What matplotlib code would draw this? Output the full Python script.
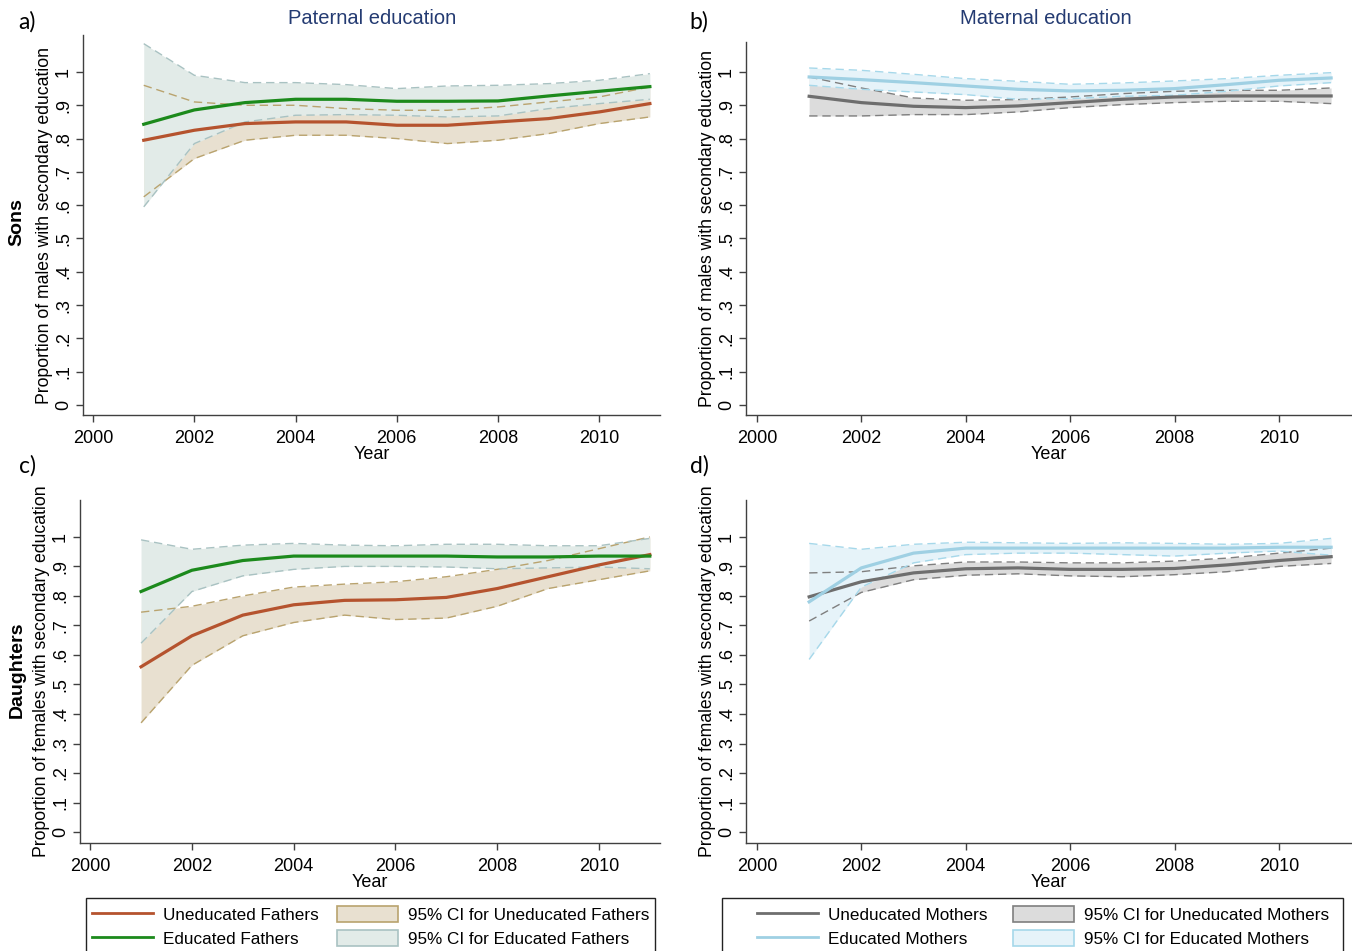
import matplotlib
matplotlib.use("Agg")
import matplotlib.pyplot as plt
import numpy as np
from matplotlib.patches import Patch, Rectangle
from matplotlib.lines import Line2D

plt.rcParams['font.family'] = ['Liberation Sans', 'DejaVu Sans']

years = [2001, 2002, 2003, 2004, 2005, 2006, 2007, 2008, 2009, 2010, 2011]

# Panel a: Sons, paternal education
a_unedu = [0.795, 0.825, 0.845, 0.850, 0.850, 0.840, 0.840, 0.850, 0.860, 0.880, 0.905]
a_unedu_lo = [0.625, 0.740, 0.795, 0.810, 0.810, 0.800, 0.785, 0.795, 0.815, 0.845, 0.865]
a_unedu_hi = [0.960, 0.910, 0.900, 0.900, 0.890, 0.885, 0.885, 0.895, 0.910, 0.925, 0.955]
a_edu = [0.843, 0.886, 0.908, 0.918, 0.918, 0.912, 0.912, 0.913, 0.928, 0.942, 0.956]
a_edu_lo = [0.595, 0.785, 0.850, 0.870, 0.872, 0.870, 0.865, 0.868, 0.890, 0.905, 0.918]
a_edu_hi = [1.085, 0.990, 0.968, 0.968, 0.962, 0.950, 0.958, 0.960, 0.965, 0.975, 0.995]

# Panel b: Sons, maternal education
b_unedu = [0.927, 0.908, 0.897, 0.893, 0.898, 0.908, 0.918, 0.925, 0.928, 0.928, 0.928]
b_unedu_lo = [0.868, 0.868, 0.872, 0.872, 0.880, 0.893, 0.902, 0.908, 0.912, 0.912, 0.905]
b_unedu_hi = [0.985, 0.952, 0.922, 0.915, 0.917, 0.925, 0.935, 0.942, 0.945, 0.945, 0.952]
b_edu = [0.985, 0.977, 0.968, 0.958, 0.948, 0.943, 0.945, 0.950, 0.962, 0.975, 0.982]
b_edu_lo = [0.960, 0.948, 0.940, 0.932, 0.918, 0.920, 0.927, 0.930, 0.942, 0.958, 0.968]
b_edu_hi = [1.012, 1.005, 0.993, 0.980, 0.972, 0.963, 0.967, 0.973, 0.980, 0.990, 0.998]

# Panel c: Daughters, paternal education
c_unedu = [0.560, 0.665, 0.735, 0.770, 0.785, 0.787, 0.795, 0.825, 0.865, 0.905, 0.940]
c_unedu_lo = [0.370, 0.565, 0.665, 0.710, 0.735, 0.720, 0.725, 0.765, 0.825, 0.855, 0.885]
c_unedu_hi = [0.745, 0.765, 0.800, 0.830, 0.840, 0.848, 0.865, 0.890, 0.920, 0.960, 1.000]
c_edu = [0.815, 0.887, 0.920, 0.935, 0.935, 0.935, 0.935, 0.932, 0.932, 0.935, 0.935]
c_edu_lo = [0.640, 0.815, 0.868, 0.890, 0.900, 0.900, 0.898, 0.892, 0.895, 0.898, 0.892]
c_edu_hi = [0.990, 0.958, 0.972, 0.978, 0.972, 0.970, 0.975, 0.975, 0.970, 0.970, 0.995]

# Panel d: Daughters, maternal education
d_unedu = [0.797, 0.848, 0.878, 0.892, 0.895, 0.890, 0.890, 0.893, 0.905, 0.920, 0.933]
d_unedu_lo = [0.715, 0.812, 0.855, 0.870, 0.875, 0.868, 0.865, 0.872, 0.882, 0.900, 0.910]
d_unedu_hi = [0.878, 0.882, 0.902, 0.915, 0.915, 0.912, 0.912, 0.918, 0.928, 0.945, 0.962]
d_edu = [0.780, 0.895, 0.945, 0.962, 0.962, 0.962, 0.962, 0.962, 0.962, 0.965, 0.965]
d_edu_lo = [0.585, 0.830, 0.912, 0.940, 0.945, 0.945, 0.940, 0.935, 0.945, 0.952, 0.938]
d_edu_hi = [0.978, 0.958, 0.975, 0.982, 0.980, 0.978, 0.980, 0.978, 0.975, 0.978, 0.995]

xticks = [2000, 2002, 2004, 2006, 2008, 2010]
yticks = [0, .1, .2, .3, .4, .5, .6, .7, .8, .9, 1]
ytick_labels = ['0', '.1', '.2', '.3', '.4', '.5', '.6', '.7', '.8', '.9', '1']

fathers_labels = ['Uneducated Fathers', 'Educated Fathers',
                  '95% CI for Uneducated Fathers', '95% CI for Educated Fathers']
mothers_labels = ['Uneducated Mothers', 'Educated Mothers',
                  '95% CI for Uneducated Mothers', '95% CI for Educated Mothers']

# styles
fathers_style = dict(
    u_line='#b5532e', e_line='#1c8a1c',
    u_fill='#e8e0d0', u_edge='#b9a36e',
    e_fill='#e2ebe8', e_edge='#a9c2c2')
mothers_style = dict(
    u_line='#6e6e6e', e_line='#9fd0e3',
    u_fill='#dcdcdc', u_edge='#7f7f7f',
    e_fill='#e6f3f9', e_edge='#a6d8ea')

W, H = 1352, 951
fig = plt.figure(figsize=(W / 100, H / 100), dpi=100)


def fig_rect(x0, y0, x1, y1):
    return [x0 / W, 1 - y1 / H, (x1 - x0) / W, (y1 - y0) / H]


dash = (0, (6, 3.5))
FS = 13


def draw_panel(rect, xlim, ylim, ylabel, data, st):
    ax = fig.add_axes(rect)
    u, ulo, uhi, e, elo, ehi = data
    ax.fill_between(years, ulo, uhi, color=st['u_fill'], lw=0, zorder=1)
    ax.fill_between(years, elo, ehi, color=st['e_fill'], lw=0, zorder=2)
    for lo_hi, c in ((ulo, st['u_edge']), (uhi, st['u_edge']),
                     (elo, st['e_edge']), (ehi, st['e_edge'])):
        ax.plot(years, lo_hi, color=c, lw=1.0, ls=dash, zorder=3)
    ax.plot(years, u, color=st['u_line'], lw=2.3, zorder=5, solid_joinstyle='round')
    ax.plot(years, e, color=st['e_line'], lw=2.3, zorder=6, solid_joinstyle='round')
    ax.set_xlim(*xlim)
    ax.set_ylim(*ylim)
    for s in ('top', 'right'):
        ax.spines[s].set_visible(False)
    for s in ('left', 'bottom'):
        ax.spines[s].set_color('#404040')
        ax.spines[s].set_linewidth(1.0)
    ax.set_xticks(xticks)
    ax.set_xticklabels([str(t) for t in xticks])
    ax.set_yticks(yticks)
    ax.set_yticklabels(ytick_labels, rotation=90, va='center')
    ax.tick_params(axis='both', direction='out', length=5, width=1,
                   color='#404040', labelsize=FS)
    ax.tick_params(axis='x', pad=6)
    ax.tick_params(axis='y', pad=3)
    ax.set_xlabel('Year', fontsize=FS, labelpad=-1)
    ax.set_ylabel(ylabel, fontsize=12.7, labelpad=1)
    return ax


xl_a = (1999.80, 2011.20)
xl_b = (1999.79, 2011.40)

ax_a = draw_panel(fig_rect(83, 35, 660, 415), xl_a, (-0.030, 1.111),
                  'Proportion of males with secondary education',
                  (a_unedu, a_unedu_lo, a_unedu_hi, a_edu, a_edu_lo, a_edu_hi), fathers_style)
ax_b = draw_panel(fig_rect(746, 42, 1352, 415), xl_b, (-0.030, 1.090),
                  'Proportion of males with secondary education',
                  (b_unedu, b_unedu_lo, b_unedu_hi, b_edu, b_edu_lo, b_edu_hi), mothers_style)
ax_c = draw_panel(fig_rect(80, 500, 660, 843), xl_a, (-0.037, 1.125),
                  'Proportion of females with secondary education',
                  (c_unedu, c_unedu_lo, c_unedu_hi, c_edu, c_edu_lo, c_edu_hi), fathers_style)
ax_d = draw_panel(fig_rect(746, 500, 1352, 843), xl_b, (-0.037, 1.125),
                  'Proportion of females with secondary education',
                  (d_unedu, d_unedu_lo, d_unedu_hi, d_edu, d_edu_lo, d_edu_hi), mothers_style)

# titles and panel letters
title_col = '#243b72'
fig.text(372 / W, 1 - 18 / H, 'Paternal education', ha='center', va='center',
         fontsize=14.5, color=title_col)
fig.text(1046 / W, 1 - 18 / H, 'Maternal education', ha='center', va='center',
         fontsize=14.5, color=title_col)
for lab, x, y in (('a)', 27, 22), ('b)', 699, 22), ('c)', 27, 466), ('d)', 699, 466)):
    fig.text(x / W, 1 - y / H, lab, ha='center', va='center', fontsize=16.5,
             family=['Lato', 'DejaVu Sans'])
fig.text(17 / W, 1 - 222 / H, 'Sons', rotation=90, ha='center', va='center',
         fontsize=14, fontweight='bold')
fig.text(17 / W, 1 - 670 / H, 'Daughters', rotation=90, ha='center', va='center',
         fontsize=14, fontweight='bold')


def add_legend(frame_x0, frame_x1, content_x0, labels, st, colsp):
    fig.add_artist(Rectangle((frame_x0 / W, 1 - 960 / H), (frame_x1 - frame_x0) / W,
                             (960 - 898) / H, transform=fig.transFigure,
                             facecolor='white', edgecolor='#222222', lw=1.0, zorder=0))
    handles = [Line2D([], [], color=st['u_line'], lw=2),
               Line2D([], [], color=st['e_line'], lw=2),
               Patch(facecolor=st['u_fill'], edgecolor=st['u_edge'], lw=1.2),
               Patch(facecolor=st['e_fill'], edgecolor=st['e_edge'], lw=1.2)]
    leg = fig.legend(handles, labels, ncol=2, loc='upper left',
                     bbox_to_anchor=(content_x0 / W, 1 - 906 / H), bbox_transform=fig.transFigure,
                     fontsize=12.3, handlelength=3.55, handleheight=1.05,
                     handletextpad=0.6, columnspacing=colsp, labelspacing=0.45,
                     borderpad=0, borderaxespad=0, frameon=False)
    return leg


add_legend(86, 655, 92, fathers_labels, fathers_style, 1.1)
add_legend(722, 1343, 757, mothers_labels, mothers_style, 1.5)

fig.savefig('out.png', dpi=100)
